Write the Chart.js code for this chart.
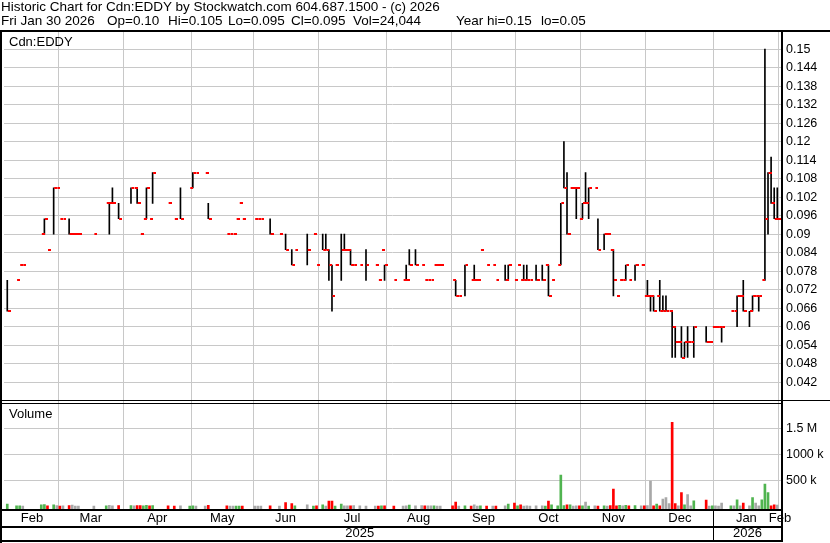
<!DOCTYPE html>
<html>
<head>
<meta charset="utf-8">
<title>Cdn:EDDY historic chart</title>
<script src="https://cdn.jsdelivr.net/npm/chart.js@4.4.1/dist/chart.umd.min.js"></script>
<style>
  html, body { margin: 0; padding: 0; background: #fff; }
  #wrap { position: relative; width: 830px; height: 543px; overflow: hidden; }
  #chart { position: absolute; left: 0; top: 0; }
  .txt { position: absolute; font: 13px "Liberation Sans", Arial, sans-serif; line-height: 13.5px; color: #000; white-space: pre; }
  .head { font-size: 13.5px; }
</style>
</head>
<body>
<div id="wrap">
  <canvas id="chart" width="830" height="543"></canvas>
  <div class="txt head" id="title" style="left:1px;top:0px"></div>
  <div id="fields"></div>
  <div class="txt" id="sym" style="left:9px;top:35px"></div>
  <div class="txt" id="volLabel" style="left:9px;top:407px"></div>
</div>
<script>
const _ = null;

const titleLine = 'Historic Chart for Cdn:EDDY by Stockwatch.com 604.687.1500 - (c) 2026';
const quoteFields = ['Fri Jan 30 2026', 'Op=0.10', 'Hi=0.105', 'Lo=0.095', 'Cl=0.095', 'Vol=24,044', 'Year hi=0.15', 'lo=0.05'];
const symbol = 'Cdn:EDDY';
const volumeTitle = 'Volume';

// trading-day index of the first day of each month
const monthNames = ['Feb', 'Mar', 'Apr', 'May', 'Jun', 'Jul', 'Aug', 'Sep', 'Oct', 'Nov', 'Dec', 'Jan', 'Feb'];
const monthStart = [0, 17, 38, 60, 80, 101, 123, 144, 165, 186, 207, 229, 250];
const yearNames = ['2025', '2026'];
const yearStart = [0, 229];

const priceTicks = [0.042, 0.048, 0.054, 0.06, 0.066, 0.072, 0.078, 0.084, 0.09, 0.096,
  0.102, 0.108, 0.114, 0.12, 0.126, 0.132, 0.138, 0.144, 0.15];
const priceTickLabels = ['0.042', '0.048', '0.054', '0.06', '0.066', '0.072', '0.078', '0.084', '0.09', '0.096',
  '0.102', '0.108', '0.114', '0.12', '0.126', '0.132', '0.138', '0.144', '0.15'];
const volumeTicks = [500000, 1000000, 1500000];
const volumeTickLabels = ['500 k', '1000 k', '1.5 M'];

// one entry per trading day, null = no trade
const closes = [
  0.065, _, _, 0.075, 0.08, 0.08, _, _, _, _,
  _, 0.09, 0.095, 0.085, _, 0.105, 0.105, 0.095, 0.095, _,
  0.09, 0.09, 0.09, 0.09, _, _, _, _, 0.09, _,
  _, _, 0.10, 0.10, 0.10, _, 0.095, _, _, _,
  0.105, 0.105, 0.10, 0.09, 0.095, 0.105, 0.095, 0.11, _, _,
  _, _, 0.10, _, 0.095, _, 0.095, _, _, 0.105,
  0.11, 0.11, _, _, 0.11, 0.095, _, _, _, _,
  _, 0.09, 0.09, 0.09, 0.095, 0.10, 0.095, _, _, _,
  0.095, 0.095, 0.095, _, _, 0.09, _, _, 0.09, _,
  0.085, _, 0.08, 0.085, _, _, _, 0.085, _, 0.09,
  0.08, _, 0.085, 0.085, 0.08, 0.07, 0.08, _, 0.085, 0.085,
  0.085, 0.08, 0.08, _, 0.08, _, 0.08, _, _, 0.08,
  0.075, 0.085, 0.08, _, _, 0.075, _, _, 0.075, 0.075,
  0.08, _, 0.08, _, 0.08, 0.075, 0.075, 0.075, 0.08, 0.08,
  0.08, _, _, _, 0.075, 0.07, 0.07, _, 0.08, _,
  0.075, 0.075, 0.075, 0.085, _, 0.08, _, 0.08, 0.075, _,
  _, 0.075, 0.08, _, 0.075, 0.08, 0.075, 0.075, 0.075, 0.075,
  _, 0.075, _, 0.075, 0.08, 0.07, 0.075, _, 0.08, 0.10,
  0.105, 0.09, 0.105, 0.105, 0.105, 0.095, 0.10, 0.10, 0.105, _,
  0.105, 0.085, _, 0.09, 0.09, 0.085, 0.075, 0.07, 0.075, 0.075,
  0.08, 0.075, _, 0.08, _, 0.08, 0.07, 0.07, 0.07, 0.065,
  0.07, 0.065, 0.065, 0.065, 0.065, 0.06, 0.055, 0.055, 0.05, 0.055,
  0.055, 0.055, 0.06, _, _, _, 0.055, 0.055, 0.06, 0.06,
  0.06, 0.06, _, _, 0.065, 0.065, 0.07, 0.07, 0.065, _,
  0.065, 0.07, 0.07, 0.07, 0.075, 0.095, 0.11, 0.10, 0.095, 0.095
];

// null = no intraday range (high = low = close)
const highs = [
  0.075, _, _, _, _, _, _, _, _, _,
  _, _, 0.095, _, _, 0.105, _, _, _, _,
  0.095, _, _, _, _, _, _, _, _, _,
  _, _, _, 0.10, 0.105, _, 0.10, _, _, _,
  0.105, _, 0.105, _, _, 0.105, _, 0.11, _, _,
  _, _, _, _, _, _, 0.105, _, _, _,
  0.11, _, _, _, _, 0.10, _, _, _, _,
  _, _, _, _, _, _, _, _, _, _,
  _, _, _, _, _, 0.095, _, _, _, _,
  0.09, _, 0.085, _, _, _, _, 0.09, _, _,
  _, _, 0.09, 0.09, 0.085, 0.08, _, _, 0.09, 0.09,
  _, 0.085, _, _, _, _, 0.085, _, _, _,
  _, _, 0.08, _, _, _, _, _, _, 0.08,
  0.085, _, 0.085, _, _, _, _, _, _, _,
  _, _, _, _, _, 0.075, _, _, 0.08, _,
  _, 0.08, _, _, _, _, _, _, _, _,
  _, 0.08, 0.08, _, _, _, _, 0.08, 0.08, _,
  _, 0.08, _, 0.08, _, 0.08, _, _, _, 0.10,
  0.12, 0.11, _, _, 0.105, _, 0.10, 0.11, 0.105, _,
  _, 0.095, _, 0.09, _, _, 0.085, _, _, _,
  0.08, _, _, 0.08, _, _, _, 0.075, 0.07, 0.07,
  _, 0.075, 0.07, 0.07, _, 0.065, 0.06, _, 0.06, 0.055,
  0.06, _, 0.06, _, _, _, 0.06, _, _, _,
  _, 0.06, _, _, _, _, 0.07, _, 0.075, _,
  0.065, 0.07, _, 0.07, _, 0.15, 0.11, 0.115, 0.105, 0.105
];
const lows = [
  0.065, _, _, _, _, _, _, _, _, _,
  _, _, 0.09, _, _, 0.09, _, _, _, _,
  0.09, _, _, _, _, _, _, _, _, _,
  _, _, _, 0.09, 0.10, _, 0.095, _, _, _,
  0.10, _, 0.10, _, _, 0.095, _, 0.10, _, _,
  _, _, _, _, _, _, 0.095, _, _, _,
  0.105, _, _, _, _, 0.095, _, _, _, _,
  _, _, _, _, _, _, _, _, _, _,
  _, _, _, _, _, 0.09, _, _, _, _,
  0.085, _, 0.08, _, _, _, _, 0.08, _, _,
  _, _, 0.085, 0.085, 0.075, 0.065, _, _, 0.075, 0.085,
  _, 0.08, _, _, _, _, 0.075, _, _, _,
  _, _, 0.075, _, _, _, _, _, _, 0.075,
  0.08, _, 0.08, _, _, _, _, _, _, _,
  _, _, _, _, _, 0.07, _, _, 0.07, _,
  _, 0.075, _, _, _, _, _, _, _, _,
  _, 0.075, 0.075, _, _, _, _, 0.075, 0.075, _,
  _, 0.075, _, 0.075, _, 0.07, _, _, _, 0.08,
  0.105, 0.09, _, _, 0.095, _, 0.095, 0.10, 0.095, _,
  _, 0.085, _, 0.085, _, _, 0.07, _, _, _,
  0.075, _, _, 0.075, _, _, _, 0.07, 0.065, 0.065,
  _, 0.065, 0.065, 0.065, _, 0.05, 0.05, _, 0.05, 0.05,
  0.05, _, 0.05, _, _, _, 0.055, _, _, _,
  _, 0.055, _, _, _, _, 0.06, _, 0.065, _,
  0.06, 0.065, _, 0.065, _, 0.075, 0.09, 0.10, 0.095, 0.095
];
const volumes = [
  45000, _, _, 8000, 10000, 6000, _, _, _, _,
  _, 30000, 35000, 8000, _, 30000, 15000, 5000, 8000, _,
  15000, 25000, 5000, 5000, _, _, _, _, 5000, _,
  _, _, 8000, 20000, 10000, _, 12000, _, _, _,
  15000, 10000, 15000, 12000, 8000, 20000, 10000, 15000, _, _,
  _, _, 8000, _, 6000, _, 10000, _, _, 5000,
  10000, 6000, _, _, 5000, 20000, _, _, _, _,
  _, 8000, 5000, 5000, 5000, 6000, 5000, _, _, _,
  5000, 5000, 6000, _, _, 10000, _, _, 6000, _,
  70000, _, 50000, 8000, _, _, _, 26000, _, 6000,
  8000, _, 26000, 5000, 100000, 100000, 6000, _, 45000, 10000,
  10000, 8000, 12000, _, 8000, _, 6000, _, _, 5000,
  6000, 8000, 8000, _, _, 5000, _, _, 6000, 8000,
  25000, _, 8000, _, 12000, 10000, 10000, 8000, 8000, 6000,
  6000, _, _, _, 10000, 80000, 5000, _, 8000, _,
  5000, 26000, 5000, 8000, _, 5000, _, 6000, 5000, _,
  _, 10000, 45000, _, 64000, 8000, 26000, 6000, 8000, 5000,
  _, 10000, _, 8000, 6000, 100000, 26000, _, 8000, 600000,
  12000, 30000, 26000, 6000, 8000, 10000, 10000, 83000, 6000, _,
  10000, 6000, _, 8000, 5000, 12000, 333000, 10000, 20000, 10000,
  20000, 8000, _, 12000, _, 8000, 10000, 12000, 487000, 8000,
  45000, 8000, 141000, 167000, 51000, 1615000, 51000, 10000, 263000, 26000,
  224000, 8000, 103000, _, _, _, 120000, 5000, 8000, 10000,
  6000, 64000, _, _, 10000, 10000, 122000, 8000, 64000, _,
  10000, 167000, 64000, 10000, 122000, 429000, 263000, 10000, 26000, 24044
];

// ---- look & layout ----
const FONT = '"Liberation Sans", Arial, sans-serif';
const GRID = '#c8c8c8';
const UP = '#50b450', DOWN = '#ff0000', SAME = '#a8a8a8';
const X_MIN = -1.06, X_MAX = 250.2;
const PRICE_MIN = 0.03574, PRICE_MAX = 0.15558;
const VOL_MIN = -52000, VOL_MAX = 2015000;
const fieldLeft = [1, 107, 168, 228, 291, 353, 456, 541];

document.getElementById('title').textContent = titleLine;
document.getElementById('fields').innerHTML = quoteFields.map((f, i) =>
  `<div class="txt head" style="left:${fieldLeft[i]}px;top:13.5px">${f}</div>`).join('');
document.getElementById('sym').textContent = symbol;
document.getElementById('volLabel').textContent = volumeTitle;

// month ticks: boundaries carry the grid line, centres carry the label
const monthTickList = [];
monthStart.forEach((s, k) => {
  const from = Math.max(X_MIN, s - 0.5);
  const to = k + 1 < monthStart.length ? monthStart[k + 1] - 0.5 : X_MAX;
  if (k > 0) monthTickList.push({ value: s - 0.5, label: '', grid: true });
  monthTickList.push({ value: (from + to) / 2, label: monthNames[k], grid: false });
});
monthTickList.sort((a, b) => a.value - b.value);

const yearTickList = yearStart.map((s, k) => {
  const from = Math.max(X_MIN, s - 0.5);
  const to = k + 1 < yearStart.length ? yearStart[k + 1] - 0.5 : X_MAX;
  return { value: (from + to) / 2, label: yearNames[k] };
});

// close tick: small red dash to the right of the high-low line
function makeCloseTick(){
  const c = document.createElement('canvas');
  c.width = 7; c.height = 2;
  const g = c.getContext('2d');
  g.fillStyle = '#ff0000';
  g.fillRect(4, 0, 3, 2);
  return c;
}

const closePoints = [];
const rangeBars = [];
const volBars = [];
const volColors = [];
let prevClose = null;
closes.forEach((c, i) => {
  if (c == null) return;
  closePoints.push({ x: i, y: c });
  if (highs[i] != null) rangeBars.push({ x: i, y: [lows[i], highs[i]] });
  if (volumes[i] != null) {
    volBars.push({ x: i, y: volumes[i] });
    volColors.push(prevClose == null || c > prevClose ? UP : (c < prevClose ? DOWN : SAME));
  }
  prevClose = c;
});

const frame = {
  id: 'frame',
  afterDraw(chart){
    const ctx = chart.ctx;
    const a = chart.chartArea;
    const xs = chart.scales.x;
    const xy = chart.scales.xYear;
    const split = chart.scales.y.bottom;
    const W = chart.width, H = chart.height;
    ctx.save();
    ctx.fillStyle = '#000';
    ctx.fillRect(0, a.top - 2, W, 2);                 // top
    ctx.fillRect(0, a.top - 2, 2, H - a.top + 2);     // left
    ctx.fillRect(a.right, a.top - 2, 2, xy.bottom - a.top + 4); // axis line
    ctx.fillRect(0, Math.round(split - 1.5), a.right, 1);   // panel separator
    ctx.fillRect(0, Math.round(split + 1.5), a.right, 1);
    ctx.fillRect(a.right, Math.round(split - 1.5), W - a.right, 1);
    ctx.fillRect(0, a.bottom, a.right + 2, 2);        // date rows
    ctx.fillRect(0, xs.bottom, a.right + 2, 2);
    ctx.fillRect(0, xy.bottom, a.right + 2, 2);
    const yx = Math.floor(xs.getPixelForValue(yearStart[1] - 0.5));
    ctx.fillRect(yx, a.bottom, 1, xy.bottom - a.bottom);
    ctx.restore();
  }
};

new Chart(document.getElementById('chart'), {
  type: 'bar',
  data: {
    datasets: [
      {
        type: 'line', data: closePoints, xAxisID: 'x', yAxisID: 'y',
        showLine: false, pointStyle: makeCloseTick(), pointRadius: 3, pointHoverRadius: 3
      },
      {
        type: 'bar', data: rangeBars, xAxisID: 'x', yAxisID: 'y',
        backgroundColor: '#000', barThickness: 1, grouped: false, borderWidth: 0
      },
      {
        type: 'bar', data: volBars, xAxisID: 'x', yAxisID: 'yVol',
        backgroundColor: volColors, barThickness: 2, grouped: false, borderWidth: 0, base: VOL_MIN
      }
    ]
  },
  options: {
    responsive: false,
    animation: false,
    events: [],
    layout: { padding: { left: 2, top: 32, right: 0, bottom: 3 } },
    plugins: { legend: { display: false }, tooltip: { enabled: false } },
    scales: {
      x: {
        type: 'linear', position: 'bottom', min: X_MIN, max: X_MAX, bounds: 'data',
        offset: false, weight: 0,
        grid: { color: c => (monthTickList[c.index] && monthTickList[c.index].grid) ? GRID : 'rgba(0,0,0,0)', drawTicks: false, offset: false },
        border: { display: false },
        afterBuildTicks: s => { s.ticks = monthTickList.map(t => ({ value: t.value })); },
        ticks: {
          callback: (v, i) => monthTickList[i] ? monthTickList[i].label : '',
          autoSkip: false, maxRotation: 0, minRotation: 0, padding: 1.5,
          color: '#000', font: { family: FONT, size: 13 }
        },
        afterFit: s => { s.height = 17; }
      },
      xYear: {
        type: 'linear', position: 'bottom', min: X_MIN, max: X_MAX, bounds: 'data',
        offset: false, weight: 1, display: true,
        grid: { display: false, drawTicks: false },
        border: { display: false },
        afterBuildTicks: s => { s.ticks = yearTickList.map(t => ({ value: t.value })); },
        ticks: {
          callback: (v, i) => yearTickList[i] ? yearTickList[i].label : '',
          autoSkip: false, maxRotation: 0, minRotation: 0, padding: 0,
          color: '#000', font: { family: FONT, size: 13 }
        },
        afterFit: s => { s.height = 14; }
      },
      y: {
        type: 'linear', position: 'right', stack: 'panels', stackWeight: 369.5,
        min: PRICE_MIN, max: PRICE_MAX, bounds: 'data',
        grid: { color: GRID, drawTicks: false },
        border: { display: false },
        afterBuildTicks: s => { s.ticks = priceTicks.map(v => ({ value: v })); },
        ticks: {
          callback: (v, i) => priceTickLabels[i],
          autoSkip: false, padding: 5, color: '#000', font: { family: FONT, size: 12.5 }
        },
        afterFit: s => { s.width = 49; }
      },
      yVol: {
        type: 'linear', position: 'right', stack: 'panels', stackWeight: 107.5,
        min: VOL_MIN, max: VOL_MAX, bounds: 'data',
        grid: { color: GRID, drawTicks: false },
        border: { display: false },
        afterBuildTicks: s => { s.ticks = volumeTicks.map(v => ({ value: v })); },
        ticks: {
          callback: (v, i) => volumeTickLabels[i],
          autoSkip: false, padding: 5, color: '#000', font: { family: FONT, size: 12.5 }
        },
        afterFit: s => { s.width = 49; }
      }
    }
  },
  plugins: [frame]
});
</script>
</body>
</html>
